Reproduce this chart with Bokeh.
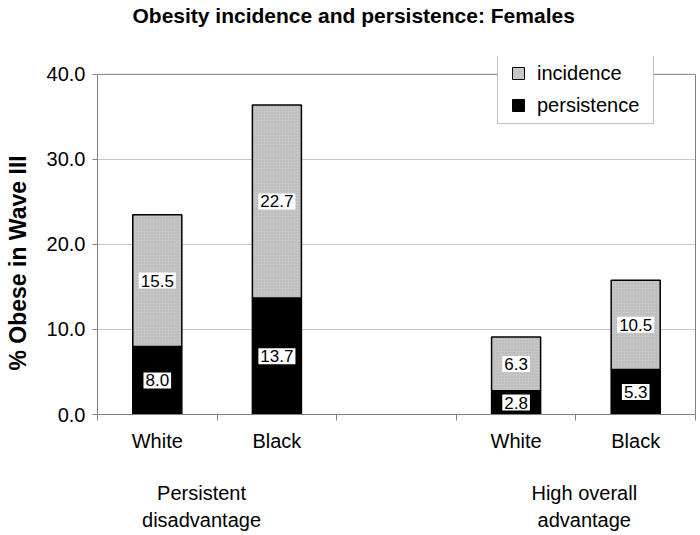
from bokeh.plotting import figure
from bokeh.models import (ColumnDataSource, FixedTicker, LinearAxis, Title, Legend,
                          LegendItem, Range1d, NumeralTickFormatter, Span)
from bokeh.core.properties import value
from bokeh.embed import file_html
from bokeh.resources import INLINE

# ---------------- data ----------------
slot_labels = ["White", "Black", "", "White", "Black"]   # category slots (slot 2 is a gap)
bar_slots = [0, 1, 3, 4]                                  # slots holding bars
persistence = [8.0, 13.7, 2.8, 5.3]
incidence = [15.5, 22.7, 6.3, 10.5]
group_labels = ["Persistent\ndisadvantage", "High overall\nadvantage"]
group_pos = [0.87, 4.07]                                  # label centres, in slot units
y_ticks = [0, 10, 20, 30, 40]
title_text = "Obesity incidence and persistence:  Females"
y_title = "% Obese in Wave III"

FONT = "Liberation Sans"
GREY = "#808080"
INC_FILL = "#c6c6c6"

xc = [s + 0.5 for s in bar_slots]
totals = [a + b for a, b in zip(persistence, incidence)]
src = ColumnDataSource(dict(
    x=xc, pers=persistence, inc=incidence, top=totals,
    pmid=[a / 2 for a in persistence],
    imid=[a + b / 2 for a, b in zip(persistence, incidence)],
    plab=[f"{v:.1f}" for v in persistence],
    ilab=[f"{v:.1f}" for v in incidence],
))

p = figure(frame_width=598, frame_height=358,
           x_range=Range1d(0, len(slot_labels)), y_range=Range1d(0, 42.1),
           output_backend="svg", toolbar_location=None,
           min_border_left=97, min_border_right=4, min_border_top=56, min_border_bottom=120)
p.title = None

p.background_fill_color = "white"
p.border_fill_color = "white"
p.outline_line_color = None

# title (with an empty spacer between it and the plot area)
p.add_layout(Title(text=" ", text_font_size="10px", standoff=17), "above")
p.add_layout(Title(text=title_text, align="left", offset=35, standoff=0,
                   text_font=FONT, text_font_size="21px", text_font_style="bold",
                   text_color="black"), "above")

# grid
p.xgrid.visible = False
p.ygrid.ticker = FixedTicker(ticks=y_ticks[1:-1])
p.ygrid.grid_line_color = "#c8c8c8"
p.ygrid.grid_line_width = 1

# y axis
ya = p.yaxis[0]
ya.ticker = FixedTicker(ticks=y_ticks)
ya.bounds = (y_ticks[0], y_ticks[-1])
ya.formatter = NumeralTickFormatter(format="0.0")
ya.axis_line_color = GREY
ya.major_tick_line_color = GREY
ya.major_tick_out = 5
ya.major_tick_in = 0
ya.minor_tick_line_color = None
ya.major_label_standoff = 7
ya.major_label_text_font = FONT
ya.major_label_text_font_size = "20px"
ya.major_label_text_color = "black"

# y title (spacer first so the title sits near the left edge)
p.add_layout(Title(text=" ", text_font_size="10px", standoff=0), "left")
p.add_layout(Title(text=y_title, align="left", offset=44, standoff=0,
                   text_font=FONT, text_font_size="23px", text_font_style="bold",
                   text_color="black"), "left")

# right border of the plot area (0..40)
ra = LinearAxis(bounds=(y_ticks[0], y_ticks[-1]), ticker=FixedTicker(ticks=[]),
                axis_line_color=GREY, major_tick_line_color=None,
                minor_tick_line_color=None, major_label_text_font_size="0px",
                major_label_standoff=0, major_tick_out=0, minor_tick_out=0)
p.add_layout(ra, "right")

# top border at 40
p.add_layout(Span(location=y_ticks[-1], dimension="width", line_color=GREY, line_width=1))

# x axis: category labels + group labels (group labels pushed down two lines)
xa = p.xaxis[0]
labels = {i + 0.5: lab for i, lab in enumerate(slot_labels) if lab}
for gp, gl in zip(group_pos, group_labels):
    labels[gp] = " \n \n" + gl
xa.ticker = FixedTicker(ticks=sorted(labels), minor_ticks=list(range(len(slot_labels) + 1)))
xa.major_label_overrides = labels
xa.axis_line_color = GREY
xa.major_tick_line_color = None
xa.major_tick_out = 0
xa.major_tick_in = 0
xa.minor_tick_line_color = GREY
xa.minor_tick_out = 6
xa.minor_tick_in = 0
xa.major_label_standoff = 9
xa.major_label_text_font = FONT
xa.major_label_text_font_size = "20px"
xa.major_label_text_color = "black"
xa.major_label_text_line_height = 1.2

# bars
bp = p.vbar(x="x", bottom=0, top="pers", width=0.41, source=src,
            fill_color="black", line_color="black", line_width=1.5)
bi = p.vbar(x="x", bottom="pers", top="top", width=0.41, source=src,
            fill_color=INC_FILL, hatch_pattern=".", hatch_color="#9c9c9c",
            hatch_scale=3, hatch_weight=1, hatch_alpha=0.6,
            line_color="black", line_width=1.5)

# value labels
for ycol, tcol in (("pmid", "plab"), ("imid", "ilab")):
    p.text(x="x", y=ycol, text=tcol, source=src, text_align="center",
           text_baseline="middle", text_font=value(FONT), text_font_size="17px",
           text_color="black", background_fill_color="white", padding=2)

# legend swatches: hidden square markers (legend draws them at 0.4 * glyph size)
r_inc = p.scatter(x="x", y="top", source=src, marker="square", size=12,
                  fill_color=INC_FILL, line_color="black", line_width=1, visible=False)
r_per = p.scatter(x="x", y="pers", source=src, marker="square", size=12,
                  fill_color="black", line_color="black", line_width=1, visible=False)
legend = Legend(items=[LegendItem(label="incidence", renderers=[r_inc]),
                       LegendItem(label="persistence", renderers=[r_per])],
                location=(400, 290), glyph_width=34, glyph_height=30,
                label_standoff=2, label_width=113, spacing=2, padding=3,
                label_text_font=FONT, label_text_font_size="20px",
                label_text_color="black",
                border_line_color=GREY, border_line_width=1,
                background_fill_color="white", background_fill_alpha=1.0,
                inactive_fill_alpha=0.0)
p.add_layout(legend, "center")

open("out.html", "w").write(file_html(p, INLINE))
